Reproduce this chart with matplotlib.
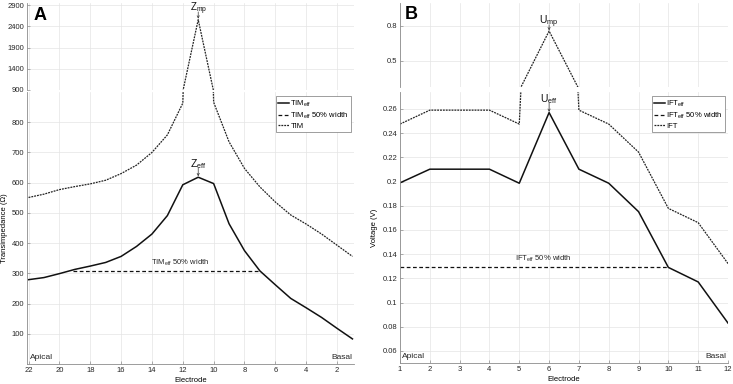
import matplotlib
matplotlib.use("Agg")
import matplotlib.pyplot as plt
import numpy as np

plt.rcParams['font.family'] = ['Liberation Sans', 'DejaVu Sans']
plt.rcParams['mathtext.fontset'] = 'custom'
plt.rcParams['mathtext.rm'] = 'Liberation Sans'
plt.rcParams['mathtext.it'] = 'Liberation Sans'

# ---- Panel A data ----
electrodes_a = [22, 21, 20, 19, 18, 17, 16, 15, 14, 13, 12, 11, 10, 9, 8, 7, 6, 5, 4, 3, 2, 1]
tim_eff = [279, 286, 299, 313, 324, 336, 356, 389, 430, 491, 593, 618, 597, 464, 375, 308,
           262, 217, 186, 154, 118, 83]
tim = [551, 562, 577, 587, 596, 608, 630, 658, 700, 758, 863, 2557, 866, 735, 647, 586,
       536, 493, 463, 430, 393, 356]
tim_half_level = 309
tim_half_range = [19.1, 6.97]
a_xticks = [22, 20, 18, 16, 14, 12, 10, 8, 6, 4, 2]
a_upper_yticks = [900, 1400, 1900, 2400, 2900]
a_lower_yticks = [100, 200, 300, 400, 500, 600, 700, 800]

# ---- Panel B data ----
electrodes_b = [1, 2, 3, 4, 5, 6, 7, 8, 9, 10, 11, 12]
ift_eff = [0.1989, 0.2102, 0.2102, 0.2102, 0.1986, 0.257, 0.2102, 0.1986, 0.1751, 0.129,
           0.117, 0.083]
ift = [0.2475, 0.259, 0.259, 0.259, 0.2475, 0.757, 0.259, 0.2475, 0.2243, 0.1778, 0.166,
       0.1322]
ift_half_level = 0.1295
ift_half_range = [1, 10]
b_xticks = list(range(1, 13))
b_upper_yticks = [0.5, 0.8]
b_lower_yticks = [0.06, 0.08, 0.1, 0.12, 0.14, 0.16, 0.18, 0.2, 0.22, 0.24, 0.26]

W, H = 733, 384
fig = plt.figure(figsize=(W / 100, H / 100), dpi=100)


def add_ax(l, r, t, b):
    return fig.add_axes([l / W, 1 - b / H, (r - l) / W, (b - t) / H])


SPC = '#8c8c8c'
GRC = '#e4e4e4'
FS = 5.5


def style(ax, bottom=True):
    for s in ['top', 'right']:
        ax.spines[s].set_visible(False)
    ax.spines['left'].set_color(SPC)
    ax.spines['left'].set_linewidth(0.6)
    if bottom:
        ax.spines['bottom'].set_color(SPC)
        ax.spines['bottom'].set_linewidth(0.6)
    else:
        ax.spines['bottom'].set_visible(False)
    ax.grid(True, color=GRC, lw=0.5)
    ax.set_axisbelow(True)
    ax.tick_params(direction='in', length=2, width=0.5, color=SPC, labelsize=FS,
                   labelcolor='#262626', pad=2)
    if not bottom:
        ax.tick_params(axis='x', bottom=False, labelbottom=False)


# ---------------- Panel A ----------------
axAu = add_ax(27, 354, 3, 90)
axAl = add_ax(27, 354, 92, 364)
for ax in (axAu, axAl):
    ax.plot(electrodes_a, tim, color='#222222', lw=0.9, ls=(0, (1.5, 0.8)))
    ax.plot(electrodes_a, tim_eff, color='#111111', lw=1.1, ls='-')
    ax.set_xlim(22.1, 0.9)
    ax.set_xticks(a_xticks)
axAl.plot(tim_half_range, [tim_half_level] * 2, color='#111111', lw=0.9, ls=(0, (3, 2)))
axAu.set_ylim(900, 2950)
axAu.set_yticks(a_upper_yticks)
axAl.set_ylim(0, 900)
axAl.set_yticks(a_lower_yticks)
style(axAu, bottom=False)
style(axAl, bottom=True)
axAl.set_xlabel('Electrode', fontsize=FS, labelpad=2)
axAl.set_ylabel('Transimpedance (Ω)', fontsize=FS, labelpad=3)
axAl.text(0.008, 0.012, 'Apical', transform=axAl.transAxes, fontsize=FS + 0.5,
          ha='left', va='bottom', color='#262626')
axAl.text(0.995, 0.012, 'Basal', transform=axAl.transAxes, fontsize=FS + 0.5,
          ha='right', va='bottom', color='#262626')
axAl.text(12.2, 318, r'TIM$_{\mathregular{eff}}$ 50% width', fontsize=FS, ha='center',
          va='bottom', color='#262626')
axAl.annotate('', xy=(11, 621), xytext=(11, 648),
              arrowprops=dict(arrowstyle='->', lw=0.5, color='#333333',
                              shrinkA=0, shrinkB=0, mutation_scale=4))
axAl.text(11, 652, r'Z$_{\mathregular{eff}}$', fontsize=7.5, ha='center', va='baseline',
          color='#111111')
axAu.annotate('', xy=(11, 2580), xytext=(11, 2740),
              arrowprops=dict(arrowstyle='->', lw=0.5, color='#333333',
                              shrinkA=0, shrinkB=0, mutation_scale=4))
axAu.text(11, 2760, r'Z$_{\mathregular{mp}}$', fontsize=7, ha='center', va='baseline',
          color='#111111', clip_on=False)
axAu.text(0.02, 0.86, 'A', transform=axAu.transAxes, fontsize=13, fontweight='bold',
          ha='left', va='center')
legA = axAl.legend(
    [plt.Line2D([], [], color='#111111', lw=1.1),
     plt.Line2D([], [], color='#111111', lw=0.9, ls=(0, (3, 2))),
     plt.Line2D([], [], color='#222222', lw=0.9, ls=(0, (1.5, 0.8)))],
    [r'TIM$_{\mathregular{eff}}$', r'TIM$_{\mathregular{eff}}$ 50% width', 'TIM'],
    loc='upper right', bbox_to_anchor=(0.99, 0.985), fontsize=FS, frameon=True,
    fancybox=False, edgecolor='#777777', framealpha=1, handlelength=1.4,
    handletextpad=0.15, borderpad=0.3, labelspacing=0.25, borderaxespad=0)
legA.get_frame().set_linewidth(0.5)

# ---------------- Panel B ----------------
axBu = add_ax(400, 728, 3, 87)
axBl = add_ax(400, 728, 92, 363)
for ax in (axBu, axBl):
    ax.plot(electrodes_b, ift, color='#222222', lw=0.9, ls=(0, (1.5, 0.8)))
    ax.plot(electrodes_b, ift_eff, color='#111111', lw=1.1, ls='-')
    ax.set_xlim(1, 12)
    ax.set_xticks(b_xticks)
axBl.plot(ift_half_range, [ift_half_level] * 2, color='#111111', lw=0.9, ls=(0, (3, 2)))
axBu.set_ylim(0.277, 0.997)
axBu.set_yticks(b_upper_yticks)
axBu.set_yticklabels(['0.5', '0.8'])
axBl.set_ylim(0.05, 0.274)
axBl.set_yticks(b_lower_yticks)
axBl.set_yticklabels(['0.06', '0.08', '0.1', '0.12', '0.14', '0.16', '0.18', '0.2', '0.22',
                      '0.24', '0.26'])
style(axBu, bottom=False)
style(axBl, bottom=True)
axBl.set_xlabel('Electrode', fontsize=FS, labelpad=2)
axBl.set_ylabel('Voltage (V)', fontsize=FS, labelpad=3)
axBl.text(0.005, 0.012, 'Apical', transform=axBl.transAxes, fontsize=FS + 0.5,
          ha='left', va='bottom', color='#262626')
axBl.text(0.995, 0.012, 'Basal', transform=axBl.transAxes, fontsize=FS + 0.5,
          ha='right', va='bottom', color='#262626')
axBl.text(5.8, 0.1315, r'IFT$_{\mathregular{eff}}$ 50% width', fontsize=FS, ha='center',
          va='bottom', color='#262626')
axBl.annotate('', xy=(6, 0.2575), xytext=(6, 0.265),
              arrowprops=dict(arrowstyle='->', lw=0.5, color='#333333',
                              shrinkA=0, shrinkB=0, mutation_scale=4))
axBl.text(6, 0.2658, r'U$_{\mathregular{eff}}$', fontsize=7.5, ha='center', va='baseline',
          color='#111111')
axBu.annotate('', xy=(6, 0.762), xytext=(6, 0.81),
              arrowprops=dict(arrowstyle='->', lw=0.5, color='#333333',
                              shrinkA=0, shrinkB=0, mutation_scale=4))
axBu.text(6, 0.817, r'U$_{\mathregular{mp}}$', fontsize=7.5, ha='center', va='baseline',
          color='#111111')
axBu.text(0.015, 0.86, 'B', transform=axBu.transAxes, fontsize=13, fontweight='bold',
          ha='left', va='center')
legB = axBl.legend(
    [plt.Line2D([], [], color='#111111', lw=1.1),
     plt.Line2D([], [], color='#111111', lw=0.9, ls=(0, (3, 2))),
     plt.Line2D([], [], color='#222222', lw=0.9, ls=(0, (1.5, 0.8)))],
    [r'IFT$_{\mathregular{eff}}$', r'IFT$_{\mathregular{eff}}$ 50% width', 'IFT'],
    loc='upper right', bbox_to_anchor=(0.99, 0.985), fontsize=FS, frameon=True,
    fancybox=False, edgecolor='#777777', framealpha=1, handlelength=1.4,
    handletextpad=0.15, borderpad=0.3, labelspacing=0.25, borderaxespad=0)
legB.get_frame().set_linewidth(0.5)

fig.savefig('out.png', dpi=100)
